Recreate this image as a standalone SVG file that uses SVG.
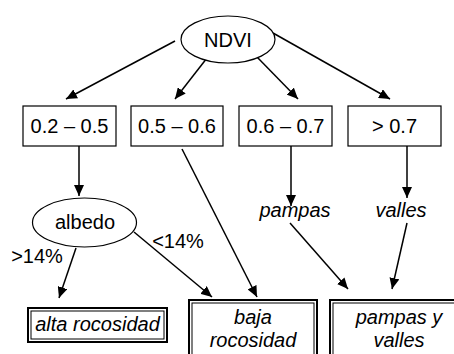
<svg xmlns="http://www.w3.org/2000/svg" width="454" height="354" viewBox="0 0 454 354">
<defs>
<marker id="ah" markerUnits="userSpaceOnUse" markerWidth="12" markerHeight="10" refX="11" refY="5" orient="auto">
<path d="M0,0 L11,5 L0,10 Z" fill="#000"/>
</marker>
<style>
.t{font-family:"Liberation Sans",Arial,sans-serif;font-size:20px;fill:#000;text-anchor:middle}
.i{font-style:italic}
.b{fill:#fff;stroke:#000;stroke-width:1.2}
.o{fill:#fff;stroke:#000;stroke-width:2}
.n{fill:none;stroke:#000;stroke-width:1}
.c line{stroke:#000;stroke-width:1.5;marker-end:url(#ah)}
</style>
</defs>
<rect width="454" height="354" fill="#fff"/>
<g class="c" id="connectors">
<line x1="175" y1="41" x2="66" y2="99"/>
<line x1="207" y1="58" x2="175" y2="99"/>
<line x1="257" y1="57" x2="298" y2="99"/>
<line x1="273" y1="33" x2="390" y2="99"/>
<line x1="79" y1="146" x2="79" y2="196"/>
<line x1="182" y1="149" x2="257" y2="297"/>
<line x1="291" y1="146" x2="291" y2="206"/>
<line x1="407" y1="146" x2="407" y2="198"/>
<line x1="76" y1="248" x2="59" y2="298"/>
<line x1="134" y1="232" x2="212" y2="297"/>
<line x1="290" y1="223" x2="348" y2="289"/>
<line x1="407" y1="223" x2="392" y2="289"/>
</g>
<g id="ndvi"><ellipse class="b" cx="228" cy="39.5" rx="47" ry="23.5"/><text class="t" x="228" y="47">NDVI</text></g>
<g id="r1"><rect class="b" x="23" y="106" width="93" height="40"/><text class="t" x="69.5" y="133">0.2 – 0.5</text></g>
<g id="r2"><rect class="b" x="131" y="106" width="92" height="40"/><text class="t" x="177" y="133">0.5 – 0.6</text></g>
<g id="r3"><rect class="b" x="239" y="106" width="93" height="40"/><text class="t" x="285.5" y="133">0.6 – 0.7</text></g>
<g id="r4"><rect class="b" x="348" y="106" width="93" height="40"/><text class="t" x="394.5" y="133">&gt; 0.7</text></g>
<g id="albedo"><ellipse class="b" cx="84.5" cy="222.5" rx="52" ry="24.5"/><text class="t" x="85" y="229">albedo</text></g>
<g id="pampas"><text class="t i" x="295" y="217">pampas</text></g>
<g id="valles"><text class="t i" x="401" y="217">valles</text></g>
<g id="lbl-gt"><text class="t" x="37" y="263">&gt;14%</text></g>
<g id="lbl-lt"><text class="t" x="178" y="248">&lt;14%</text></g>
<g id="alta"><rect class="o" x="28" y="308" width="139" height="34"/><rect class="n" x="31" y="311" width="133" height="28"/><text class="t i" x="97.5" y="331">alta rocosidad</text></g>
<g id="baja"><rect class="o" x="189" y="300" width="128" height="70"/><rect class="n" x="192" y="303" width="122" height="64"/><text class="t i" x="253" y="324">baja</text><text class="t i" x="253" y="347">rocosidad</text></g>
<g id="pyv"><rect class="o" x="330" y="300" width="130" height="70"/><rect class="n" x="333" y="303" width="124" height="64"/><text class="t i" x="399" y="324">pampas y</text><text class="t i" x="399" y="347">valles</text></g>
</svg>
